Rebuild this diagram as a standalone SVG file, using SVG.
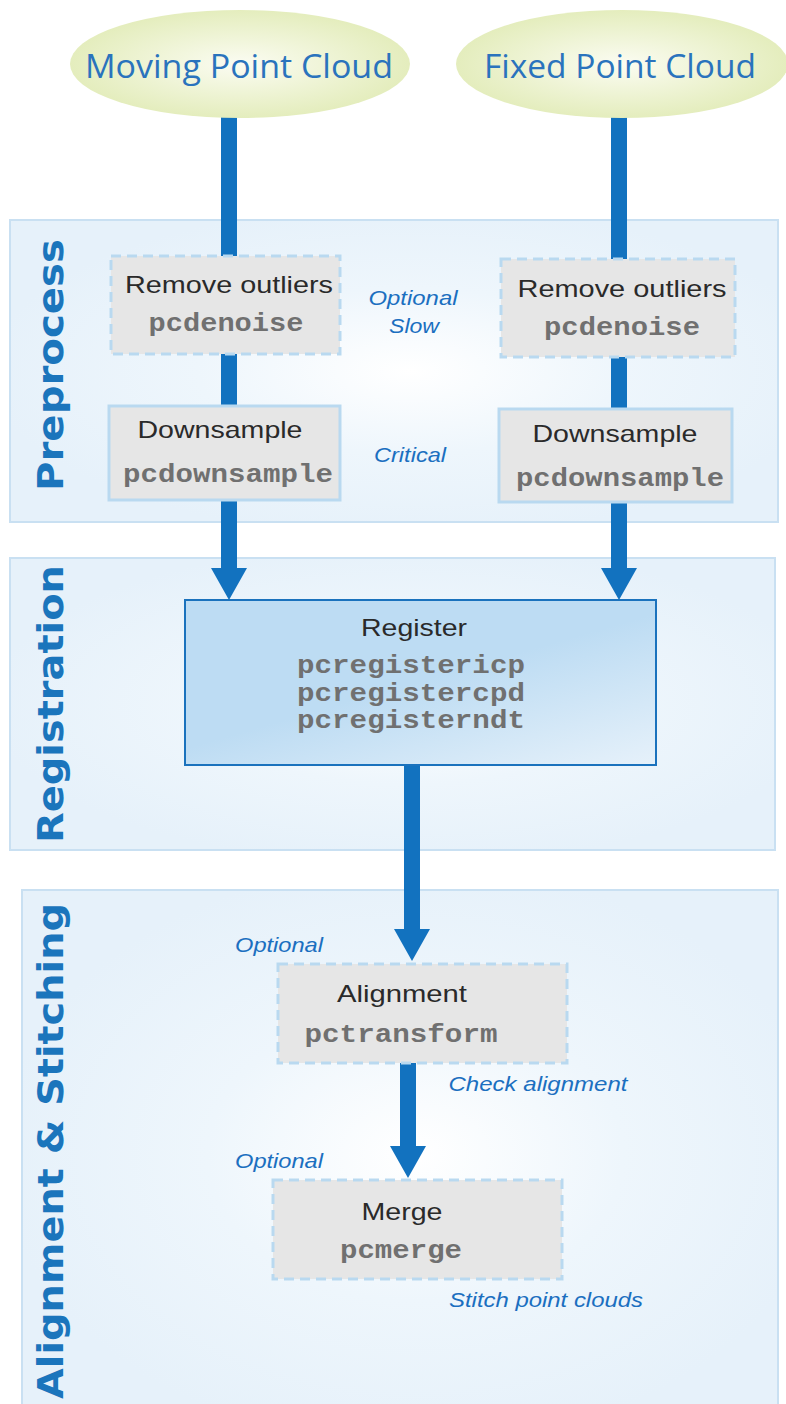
<svg xmlns="http://www.w3.org/2000/svg" width="786" height="1404" viewBox="0 0 786 1404">
  <defs>
    <radialGradient id="panelFill" cx="0.52" cy="0.5" r="0.55">
      <stop offset="0" stop-color="#ffffff"/>
      <stop offset="0.5" stop-color="#eef6fc"/>
      <stop offset="1" stop-color="#e6f1fa"/>
    </radialGradient>
    <radialGradient id="cloudFill" cx="0.5" cy="0.5" r="0.5">
      <stop offset="0" stop-color="#fbfcf2"/>
      <stop offset="1" stop-color="#e4edbd"/>
    </radialGradient>
    <linearGradient id="registerFill" x1="0.55" y1="0.45" x2="1" y2="1">
      <stop offset="0" stop-color="#bddcf3"/>
      <stop offset="1" stop-color="#e6f1fa"/>
    </linearGradient>
    <marker id="head" viewBox="0 0 32 36" refX="0" refY="18" markerWidth="32" markerHeight="36" markerUnits="userSpaceOnUse" orient="auto">
      <path d="M0,0 L32,18 L0,36 Z" fill="#1272bf"/>
    </marker>
    <style>
      .panel { fill: url(#panelFill); stroke: #c9e0f2; stroke-width: 2; }
      .section { font-family: "DejaVu Sans", "Liberation Sans", sans-serif; font-weight: bold; font-size: 36px; fill: #1b75bc; text-anchor: middle; }
      .cloud { fill: url(#cloudFill); }
      .cloudText { font-family: "Open Sans", "Liberation Sans", sans-serif; font-size: 32px; fill: #2a73bd; text-anchor: middle; }
      .box { fill: #e6e6e6; stroke: #b9d9f0; stroke-width: 3; }
      .dashed { stroke-dasharray: 10 6; }
      .title { font-family: "Liberation Sans", Arial, sans-serif; font-size: 24px; fill: #2a2a2a; text-anchor: middle; }
      .code { font-family: "Liberation Mono", "Courier New", monospace; font-weight: bold; font-size: 25px; fill: #707070; text-anchor: middle; }
      .note { font-family: "Liberation Sans", Arial, sans-serif; font-style: italic; font-size: 21px; fill: #1b6fc0; text-anchor: middle; }
      .flow { fill: none; stroke: #1272bf; stroke-width: 16; }
    </style>
  </defs>

  <!-- stage panels -->
  <g id="panel-preprocess">
    <rect class="panel" x="10" y="220" width="768" height="302"/>
    <text class="section" transform="translate(63,365) rotate(-90)" textLength="252" lengthAdjust="spacingAndGlyphs">Preprocess</text>
  </g>
  <g id="panel-registration">
    <rect class="panel" x="10" y="558" width="765" height="292"/>
    <text class="section" transform="translate(63,704) rotate(-90)" textLength="278" lengthAdjust="spacingAndGlyphs">Registration</text>
  </g>
  <g id="panel-alignment">
    <rect class="panel" x="22" y="890" width="756" height="530"/>
    <text class="section" transform="translate(63,1151) rotate(-90)" textLength="496" lengthAdjust="spacingAndGlyphs">Alignment &amp; Stitching</text>
  </g>

  <!-- connectors -->
  <g id="connectors">
    <path class="flow" d="M229,110 V568" marker-end="url(#head)"/>
    <path class="flow" d="M619,110 V568" marker-end="url(#head)"/>
    <path class="flow" d="M412,765 V929" marker-end="url(#head)"/>
    <path class="flow" d="M408,1063 V1146" marker-end="url(#head)"/>
  </g>

  <!-- inputs -->
  <g id="moving-cloud">
    <ellipse class="cloud" cx="240" cy="64" rx="170" ry="54"/>
    <text class="cloudText" x="239" y="78" textLength="308" lengthAdjust="spacingAndGlyphs">Moving Point Cloud</text>
  </g>
  <g id="fixed-cloud">
    <ellipse class="cloud" cx="622" cy="64" rx="166" ry="54"/>
    <text class="cloudText" x="620" y="78" textLength="272" lengthAdjust="spacingAndGlyphs">Fixed Point Cloud</text>
  </g>

  <!-- preprocessing steps -->
  <g id="denoise-moving">
    <rect class="box dashed" x="111" y="256" width="229" height="98"/>
    <text class="title" x="229" y="293" textLength="208" lengthAdjust="spacingAndGlyphs">Remove outliers</text>
    <text class="code" x="226" y="331" textLength="155" lengthAdjust="spacingAndGlyphs">pcdenoise</text>
  </g>
  <g id="denoise-fixed">
    <rect class="box dashed" x="501" y="259" width="234" height="98"/>
    <text class="title" x="622" y="297" textLength="209" lengthAdjust="spacingAndGlyphs">Remove outliers</text>
    <text class="code" x="622" y="335" textLength="156" lengthAdjust="spacingAndGlyphs">pcdenoise</text>
  </g>
  <g id="downsample-moving">
    <rect class="box" x="109" y="406" width="231" height="94"/>
    <text class="title" x="220" y="438" textLength="165" lengthAdjust="spacingAndGlyphs">Downsample</text>
    <text class="code" x="228" y="482" textLength="210" lengthAdjust="spacingAndGlyphs">pcdownsample</text>
  </g>
  <g id="downsample-fixed">
    <rect class="box" x="499" y="409" width="233" height="93"/>
    <text class="title" x="615" y="442" textLength="165" lengthAdjust="spacingAndGlyphs">Downsample</text>
    <text class="code" x="620" y="486" textLength="208" lengthAdjust="spacingAndGlyphs">pcdownsample</text>
  </g>
  <g id="preprocess-notes">
    <text class="note" x="413" y="305" textLength="89" lengthAdjust="spacingAndGlyphs">Optional</text>
    <text class="note" x="414" y="333" textLength="50" lengthAdjust="spacingAndGlyphs">Slow</text>
    <text class="note" x="410" y="462" textLength="72" lengthAdjust="spacingAndGlyphs">Critical</text>
  </g>

  <!-- registration -->
  <g id="register">
    <rect x="185" y="600" width="471" height="165" fill="url(#registerFill)" stroke="#1a72bd" stroke-width="2"/>
    <text class="title" x="414" y="636" textLength="106" lengthAdjust="spacingAndGlyphs">Register</text>
    <text class="code" x="411" y="673" textLength="228" lengthAdjust="spacingAndGlyphs">pcregistericp</text>
    <text class="code" x="411" y="701" textLength="228" lengthAdjust="spacingAndGlyphs">pcregistercpd</text>
    <text class="code" x="411" y="728" textLength="228" lengthAdjust="spacingAndGlyphs">pcregisterndt</text>
  </g>

  <!-- alignment and stitching -->
  <g id="alignment">
    <rect class="box dashed" x="278" y="964" width="289" height="99"/>
    <text class="title" x="402" y="1002" textLength="130" lengthAdjust="spacingAndGlyphs">Alignment</text>
    <text class="code" x="401" y="1042" textLength="193" lengthAdjust="spacingAndGlyphs">pctransform</text>
  </g>
  <g id="merge">
    <rect class="box dashed" x="273" y="1180" width="289" height="99"/>
    <text class="title" x="402" y="1220" textLength="81" lengthAdjust="spacingAndGlyphs">Merge</text>
    <text class="code" x="401" y="1258" textLength="122" lengthAdjust="spacingAndGlyphs">pcmerge</text>
  </g>
  <g id="alignment-notes">
    <text class="note" x="279" y="952" textLength="88" lengthAdjust="spacingAndGlyphs">Optional</text>
    <text class="note" x="538" y="1091" textLength="179" lengthAdjust="spacingAndGlyphs">Check alignment</text>
    <text class="note" x="279" y="1168" textLength="88" lengthAdjust="spacingAndGlyphs">Optional</text>
    <text class="note" x="546" y="1307" textLength="194" lengthAdjust="spacingAndGlyphs">Stitch point clouds</text>
  </g>
</svg>
